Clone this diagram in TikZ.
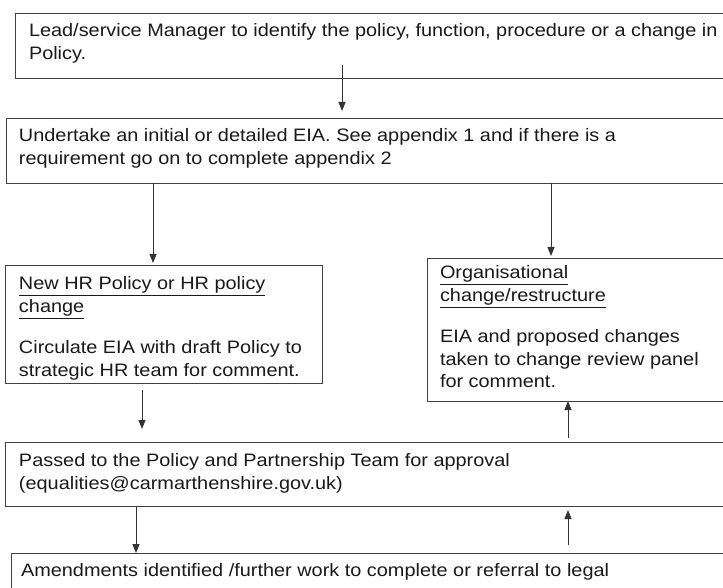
\documentclass[tikz,border=0pt]{standalone}
\usepackage{fontspec}
\setmainfont[FakeStretch=1.105]{Liberation Sans}
\usetikzlibrary{arrows.meta,calc}
\tikzset{
  box/.style={draw=black!75, line width=0.9pt, anchor=north west, inner sep=0pt, outer sep=0pt},
  txt/.style={anchor=base west, inner sep=0pt, outer sep=0pt, text=black!90},
  arr/.style={draw=black!80, line width=0.9pt, -{Triangle[width=7pt,length=9pt]}}
}
\newcommand{\para}[2]{\parbox[t]{#1}{\setlength{\parskip}{17pt}\setlength{\parindent}{0pt}\fontsize{18}{23}\selectfont #2}}
\begin{document}
\begin{tikzpicture}[x=1pt,y=-1pt]
\useasboundingbox (0,0) rectangle (723,588);
\clip (0,0) rectangle (723,588);
% boxes
\node[box, minimum width=715pt, minimum height=65pt] (b1) at (15,13) {};
\node[box, minimum width=724pt, minimum height=65pt] (b2) at (6,118) {};
\node[box, minimum width=317pt, minimum height=118pt] (hr) at (5,265) {};
\node[box, minimum width=303pt, minimum height=143pt] (org) at (427,258) {};
\node[box, minimum width=725pt, minimum height=64pt] (pp) at (5,442) {};
\node[box, minimum width=719pt, minimum height=60pt] (am) at (11,553) {};
% texts
\node[txt] (t1) at (29,37) {\para{720pt}{Lead/service Manager to identify the policy, function, procedure or a change in\\Policy.}};
\node[txt] (t2) at (19,142) {\para{700pt}{Undertake an initial or detailed EIA. See appendix 1 and if there is a\\requirement go on to complete appendix 2}};
\node[txt] (t3) at (19,290) {\para{300pt}{\underline{New HR Policy or HR policy}\\\underline{change}\par Circulate EIA with draft Policy to\\strategic HR team for comment.}};
\node[txt] (t4) at (440,279) {\para{280pt}{\underline{Organisational}\\\underline{change/restructure}\par EIA and proposed changes\\taken to change review panel\\for comment.}};
\node[txt] (t5) at (19,466) {\para{700pt}{Passed to the Policy and Partnership Team for approval\\(equalities@carmarthenshire.gov.uk)}};
\node[txt] (t6) at (21,576) {\para{700pt}{Amendments identified /further work to complete or referral to legal}};
% connectors
\coordinate (a1s) at (342,65);  \coordinate (a1e) at (342,111);
\coordinate (a2e) at (153,263);
\coordinate (a3e) at (551,256);
\coordinate (a4s) at (142,390); \coordinate (a4e) at (142,429);
\coordinate (a5s) at (568,438);
\coordinate (a6e) at (136,553);
\coordinate (a7s) at (568,545); \coordinate (a7e) at (568,510);
\draw[arr] (a1s) -- (a1e);
\draw[arr] (b2.south -| a2e) -- (a2e);
\draw[arr] (b2.south -| a3e) -- (a3e);
\draw[arr] (a4s) -- (a4e);
\draw[arr] (a5s) -- (org.south -| a5s);
\draw[arr] (pp.south -| a6e) -- (a6e);
\draw[arr] (a7s) -- (a7e);
\end{tikzpicture}
\end{document}
